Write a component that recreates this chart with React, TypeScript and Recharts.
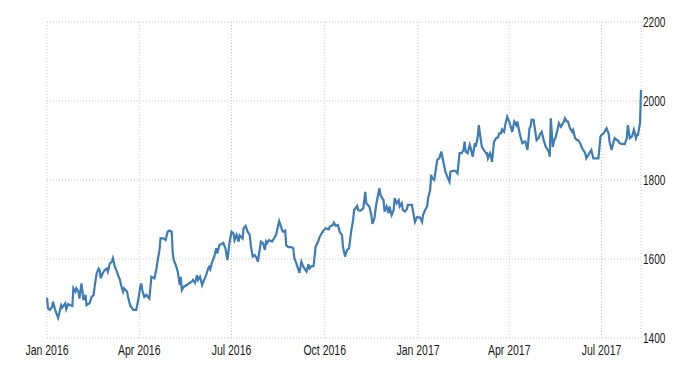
import { LineChart, Line, CartesianGrid, XAxis, YAxis } from "recharts";

// day offsets counted from 1 Jan 2016
const days = [
  0, 1, 3, 5, 6, 8, 11, 14, 15, 18, 19, 21, 23, 25, 26, 28, 29, 31, 32, 34, 36, 38, 39, 42, 44, 46, 47, 49,
  51, 52, 53, 55, 57, 59, 60, 62, 64, 65, 67, 69, 70, 72, 73, 75, 76, 79, 80, 82, 85, 88, 90,
  92, 93, 94, 96, 98, 101, 103, 106, 108, 109, 111, 112, 115, 117, 119, 121, 123, 124, 125, 127, 129, 131,
  132, 133, 135, 138, 140, 143, 144, 146, 148, 149, 151, 153, 155, 157, 159, 160, 161, 163, 165, 167, 168,
  170, 172, 174, 176, 178, 180, 182, 184, 185, 187, 189,
  190, 193, 194, 196, 198, 200, 201, 203, 205, 207, 208, 211, 213, 215, 216, 217, 219, 222, 224, 226, 227,
  229, 232, 233, 235, 236, 238, 241, 243, 244, 246, 249, 251, 253, 256, 258, 259, 261, 263, 265, 268, 269,
  271, 273, 275, 278, 279, 282, 283, 285, 287,
  289, 291, 292, 294, 296, 298, 300, 302, 303, 306, 307, 309, 312, 314, 315, 318, 320, 321, 323, 325, 328,
  329, 332, 333, 335, 337, 338, 340, 342, 343, 345, 347, 348, 350, 351, 353, 355, 356, 358, 360, 361, 363,
  365, 368, 370, 371, 373, 375, 376,
  378, 379, 380, 382, 384, 385, 387, 389, 391, 393, 395, 397, 398, 401, 403, 405, 407, 409, 411, 412, 413,
  415, 417, 418, 420, 422, 423, 425, 426, 428, 429, 431, 433, 434, 435, 437, 438, 439, 441, 443, 445, 446,
  448, 449, 451, 452, 454, 456, 457, 459, 461, 463, 464, 466, 467, 469, 471, 472, 474, 476,
  477, 478, 480, 481, 483, 485, 486, 488, 490, 492, 495, 496, 497, 499, 500, 502, 504, 505, 507, 509, 510,
  511, 513, 514, 516, 518, 519, 521, 523, 524, 526, 528, 529, 531, 532, 534, 536, 537, 539, 542, 544, 546,
  547, 549, 550, 552, 554, 555, 557, 559, 560, 562, 563, 565, 568, 570, 572, 573, 575, 577, 578, 579, 581,
  582, 583, 585, 586,
];

const prices = [
  1502, 1475, 1471, 1479, 1492, 1471, 1451, 1483, 1477, 1488, 1473, 1486, 1483, 1481, 1526, 1517, 1526, 1517,
  1500, 1538, 1496, 1509, 1483, 1488, 1504, 1509, 1530, 1564, 1576, 1572, 1551, 1564, 1572, 1576, 1568, 1589,
  1593, 1602, 1580, 1568, 1559, 1547, 1534, 1517, 1526, 1517, 1504, 1483, 1471, 1471, 1496,
  1530, 1538, 1521, 1504, 1509, 1500, 1555, 1551, 1576, 1593, 1623, 1652, 1652, 1648, 1669, 1672, 1669, 1618,
  1597, 1585, 1568, 1534, 1555, 1521, 1530, 1534, 1538, 1543, 1547, 1540, 1559, 1547, 1555, 1534, 1547, 1559,
  1576, 1580, 1574, 1593, 1606, 1627, 1614, 1635, 1638, 1641, 1627, 1597, 1640, 1669, 1665, 1648, 1661, 1644,
  1660, 1652, 1678, 1684, 1669, 1661, 1635, 1606, 1610, 1602, 1593, 1644, 1640, 1623, 1644, 1640, 1648, 1644,
  1652, 1661, 1673, 1696, 1673, 1669, 1672, 1635, 1630, 1630, 1627, 1602, 1589, 1565, 1593, 1580, 1568, 1587,
  1576, 1582, 1582, 1631, 1648, 1656, 1665, 1673, 1678, 1675, 1682, 1686, 1692, 1684, 1686,
  1667, 1661, 1631, 1606, 1623, 1627, 1669, 1699, 1724, 1734, 1724, 1722, 1728, 1770, 1741, 1733, 1711, 1689,
  1703, 1741, 1779, 1762, 1749, 1720, 1733, 1716, 1733, 1711, 1724, 1754, 1741, 1749, 1733, 1741, 1724, 1720,
  1726, 1737, 1737, 1737, 1722, 1694, 1706, 1705, 1694, 1711, 1724, 1733, 1754,
  1775, 1813, 1804, 1800, 1834, 1851, 1855, 1872, 1846, 1821, 1808, 1796, 1821, 1824, 1823, 1817, 1868, 1868,
  1876, 1897, 1872, 1868, 1889, 1880, 1859, 1893, 1884, 1910, 1939, 1901, 1884, 1876, 1868, 1868, 1855, 1868,
  1859, 1846, 1897, 1906, 1908, 1918, 1918, 1928, 1922, 1939, 1960, 1948, 1939, 1922, 1948, 1939, 1948, 1922,
  1910, 1893, 1897, 1897, 1876, 1931,
  1935, 1952, 1952, 1935, 1901, 1906, 1914, 1922, 1901, 1884, 1872, 1859, 1956, 1884, 1897, 1910, 1931, 1944,
  1935, 1944, 1948, 1956, 1948, 1948, 1931, 1922, 1927, 1906, 1901, 1901, 1893, 1880, 1876, 1868, 1855, 1863,
  1872, 1876, 1855, 1855, 1855, 1910, 1914, 1918, 1922, 1931, 1918, 1897, 1876, 1897, 1906, 1901, 1901, 1893,
  1891, 1891, 1906, 1939, 1906, 1910, 1918, 1927, 1906, 1914, 1914, 1944, 2028,
];

const tickDays = [0, 91, 182, 274, 366, 456, 547];
const tickLabels = ["Jan 2016", "Apr 2016", "Jul 2016", "Oct 2016", "Jan 2017", "Apr 2017", "Jul 2017"];
const yTicks = [1400, 1600, 1800, 2000, 2200];

const data = days.map((d, i) => ({ day: d, price: prices[i] }));

const font = "'Liberation Sans', Arial, sans-serif";

// the original uses a narrow typeface, so squeeze the labels horizontally
function XTick({ x, y, payload }: any) {
  return (
    <text
      transform={`translate(${x},${y + 7}) scale(0.75,1)`}
      textAnchor="middle"
      fill="#1a1a1a"
      fontSize={14}
      fontFamily={font}
    >
      {tickLabels[tickDays.indexOf(payload.value)]}
    </text>
  );
}

function YTick({ x, y, payload }: any) {
  return (
    <text
      transform={`translate(${x},${y + 5}) scale(0.72,1)`}
      textAnchor="start"
      fill="#1a1a1a"
      fontSize={14}
      fontFamily={font}
    >
      {payload.value}
    </text>
  );
}

export default function App() {
  return (
    <div style={{ position: "absolute", left: 0, top: 0, background: "#fff" }}>
      <LineChart
        width={700}
        height={375}
        data={data}
        margin={{ top: 22, right: 9, bottom: 7, left: 47 }}
      >
        <CartesianGrid stroke="#c8c8c8" strokeDasharray="1 2" />
        <XAxis
          dataKey="day"
          type="number"
          domain={[0, 586]}
          ticks={tickDays}
          axisLine={false}
          tickLine={false}
          tickSize={6}
          tickMargin={4}
          height={30}
          tick={<XTick />}
        />
        <YAxis
          orientation="right"
          domain={[1400, 2200]}
          ticks={yTicks}
          axisLine={false}
          tickLine={false}
          tickSize={0}
          tickMargin={2}
          width={50}
          tick={<YTick />}
        />
        <Line
          type="linear"
          dataKey="price"
          stroke="#3d7cb6"
          strokeWidth={2.2}
          dot={false}
          isAnimationActive={false}
        />
      </LineChart>
    </div>
  );
}
